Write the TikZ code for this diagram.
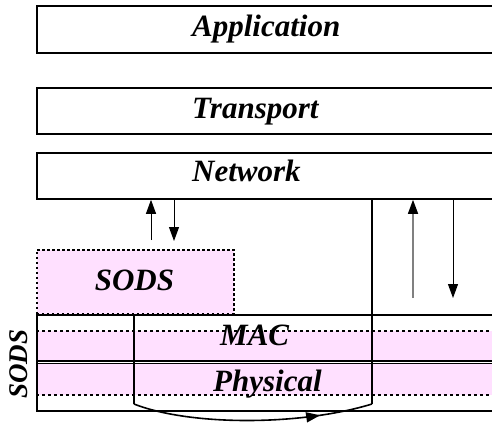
\documentclass[tikz,border=0pt]{standalone}
\usepackage{fontspec}
\setmainfont{Liberation Serif}
\usetikzlibrary{arrows.meta,decorations.markings}
\definecolor{sodspink}{RGB}{255,224,255}
\begin{document}
\begin{tikzpicture}[x=1pt,y=-1pt,
  layer/.style={draw,line width=1.8pt,inner sep=0pt,anchor=north west,minimum width=484pt},
  lbl/.style={font=\fontsize{31}{34}\selectfont\bfseries\itshape,anchor=base west,inner sep=0pt},
  dsh/.style={line width=1.8pt,dash pattern=on 3pt off 3pt},
  arr/.style={line width=1pt,-{Triangle[length=14pt,width=10pt]}},
  garr/.style={line width=1.5pt,draw=black!50,-{Triangle[length=14pt,width=10pt,color=black]}},
  conn/.style={line width=1.6pt},
]
\clip (0,0) rectangle (492,425);
\fill[white] (0,0) rectangle (492,425);
% upper layers
\node[layer,minimum height=47pt] (app) at (36,5) {};
\node[layer,minimum height=46pt] (trn) at (36,87) {};
\node[layer,minimum height=46pt] (net) at (36,152) {};
\node[lbl] (appt) at (192,37) {Application};
\node[lbl] (trnt) at (192,118) {Transport};
\node[lbl] (nett) at (192,181.5) {Network};
% lower stack
\fill[sodspink] (36,331) rectangle (520,395);
\draw[dsh] (36,331) -- (520,331);
\draw[dsh] (36,395) -- (520,395);
\draw[line width=1.2pt,double,double distance=1pt] (36,362) -- (520,362);
\node[layer,minimum height=96pt] (low) at (36,314) {};
% SODS box
\node[draw,fill=sodspink,line width=1.8pt,dash pattern=on 2.5pt off 2.5pt,inner sep=0pt,
      anchor=north west,minimum width=197pt,minimum height=64pt] (sods) at (36,249) {};
\node[lbl,anchor=base] (sodst) at (134.5,290) {SODS};
\node[lbl] (mact) at (220,345) {MAC};
\node[lbl] (phyt) at (213,391.5) {Physical};
\node[lbl,font=\fontsize{27}{30}\selectfont\bfseries\itshape,anchor=center,rotate=90] (sodsv) at (19,364) {SODS};
% arrows between SODS and Network
\coordinate (a1) at (151,240);
\coordinate (a2) at (174,241);
\coordinate (a3) at (413,298);
\coordinate (a4) at (453,298);
\draw[arr] (a1) -- (a1|-net.south);
\draw[arr] (a2|-net.south) -- (a2);
\draw[garr] (a3) -- (a3|-net.south);
\draw[arr] (a4|-net.south) -- (a4);
% bypass connector
\coordinate (c1) at (134,314);
\coordinate (c2) at (134,404);
\coordinate (c3) at (372,404);
\coordinate (c4) at (380,199);
\draw[conn] (c1) -- (c2);
\draw[conn,postaction={decorate},decoration={markings,
      mark=at position 0.78 with {\arrow{Triangle[length=14pt,width=10pt]}}}]
  (c2) .. controls (190,426) and (300,426) .. (c3);
\draw[conn] (c3) -- (c3|-c4) -- (c4);
\end{tikzpicture}
\end{document}
